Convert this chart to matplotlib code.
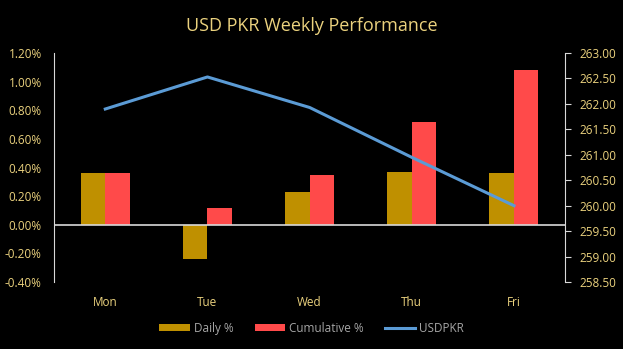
import matplotlib
matplotlib.use("Agg")
import matplotlib.pyplot as plt
import numpy as np
from matplotlib.ticker import FuncFormatter

days = ["Mon", "Tue", "Wed", "Thu", "Fri"]
daily = [0.36, -0.24, 0.23, 0.37, 0.36]
cumulative = [0.36, 0.12, 0.35, 0.72, 1.08]
usdpkr = [261.90, 262.53, 261.93, 260.95, 260.00]

gold = "#BF9000"
red = "#FF4A4A"
blue = "#5B9BD5"
txt = "#EBD27E"
legtxt = "#A6A6A6"

plt.rcParams["font.family"] = ["Open Sans", "DejaVu Sans"]

fig = plt.figure(figsize=(6.23, 3.49), dpi=100, facecolor="black")
ax = fig.add_axes([0.087, 0.192, 0.82, 0.656], facecolor="black")
ax2 = ax.twinx()

x = np.arange(len(days))
w = 0.24
b1 = ax.bar(x - w / 2, daily, w, color=gold, label="Daily %", zorder=2)
b2 = ax.bar(x + w / 2, cumulative, w, color=red, label="Cumulative %", zorder=2)
ax.axhline(0, color="#D9D9D9", lw=1.2, zorder=3)
ln, = ax2.plot(x, usdpkr, color=blue, lw=2.2, label="USDPKR")

ax.set_xlim(-0.5, 4.5)
ax.set_ylim(-0.4, 1.2)
ax.set_yticks(np.arange(-0.4, 1.21, 0.2))
ax.yaxis.set_major_formatter(FuncFormatter(lambda v, p: f"{v:.2f}%"))
ax2.set_ylim(258.5, 263.0)
ax2.set_yticks(np.arange(258.5, 263.01, 0.5))
ax2.yaxis.set_major_formatter(FuncFormatter(lambda v, p: f"{v:.2f}"))

ax.set_xticks(x)
ax.set_xticklabels(days)
ax.tick_params(axis="x", length=0, colors=txt, labelsize=8.5, pad=10)
ax.tick_params(axis="y", length=0, colors=txt, labelsize=8.5, pad=9)
ax2.tick_params(axis="y", length=4, color="#D9D9D9", labelcolor=txt, labelsize=8.5, pad=6)

for a in (ax, ax2):
    for s in ("top", "bottom"):
        a.spines[s].set_visible(False)
ax.spines["right"].set_visible(False)
ax2.spines["left"].set_color("#D9D9D9")
ax2.spines["right"].set_color("#D9D9D9")

fig.suptitle("USD PKR Weekly Performance", color=txt, fontsize=13, y=0.95)

leg = fig.legend([b1, b2, ln], ["Daily %", "Cumulative %", "USDPKR"], loc="center",
                 bbox_to_anchor=(0.5, 0.06), ncol=3, frameon=False, fontsize=8.5,
                 handlelength=2.6, handleheight=0.6, columnspacing=1.8, handletextpad=0.3)
for t in leg.get_texts():
    t.set_color(legtxt)

fig.savefig("out.png", dpi=100, facecolor="black")
